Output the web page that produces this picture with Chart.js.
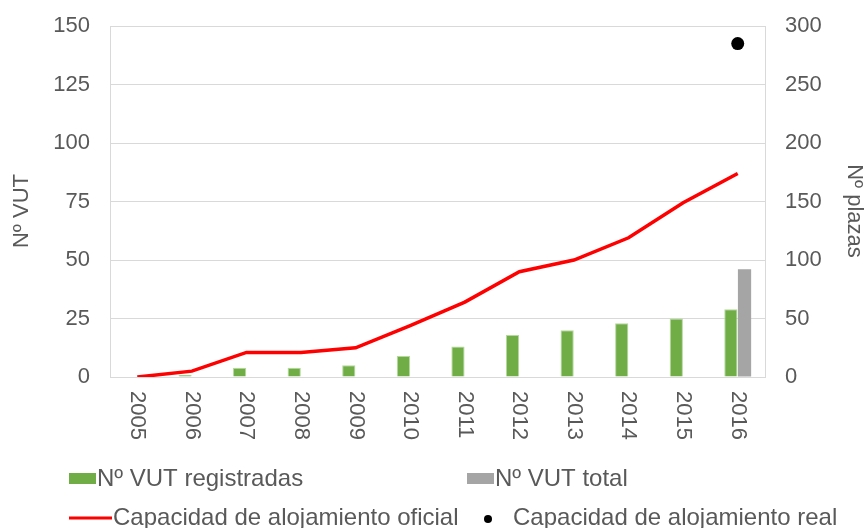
<!DOCTYPE html>
<html>
<head>
<meta charset="utf-8">
<script src="https://cdn.jsdelivr.net/npm/chart.js@4.4.0/dist/chart.umd.min.js"></script>
<style>
  html,body{margin:0;padding:0;background:#fff;}
  #wrap{width:865px;height:528px;position:relative;}
</style>
</head>
<body>
<div id="wrap"><canvas id="c" width="865" height="528"></canvas></div>
<script>
const years = ['2005','2006','2007','2008','2009','2010','2011','2012','2013','2014','2015','2016'];
const vutRegistradas = [0, 1, 4, 4, 5, 9, 13, 18, 20, 23, 25, 29];
const vutTotal = [null, null, null, null, null, null, null, null, null, null, null, 46];
const capOficial = [0, 5, 21, 21, 25, 44, 64, 90, 100, 119, 149, 174];
const capReal = [null, null, null, null, null, null, null, null, null, null, null, 285];
const leftTicks = [0, 150, 25];
const rightTicks = [0, 300, 50];
const leftTitle = 'Nº VUT';
const rightTitle = 'Nº plazas';

const FONT = 'Liberation Sans, Arial, sans-serif';
const TXT = '#595959';
const GRID = '#d9d9d9';

// rotated year labels (top-to-bottom) under each category, plus axis titles
const yearLabels = {
  id:'yearLabels',
  afterDraw(chart){
    const xs = chart.scales.x, ctx = chart.ctx;
    ctx.save();
    ctx.fillStyle = TXT;
    ctx.font = '22px ' + FONT;
    ctx.textAlign = 'left';
    ctx.textBaseline = 'middle';
    chart.data.labels.forEach((lab,i)=>{
      const x = xs.getPixelForTick(i);
      ctx.save();
      ctx.translate(x, xs.top + 14);
      ctx.rotate(Math.PI/2);
      ctx.fillText(lab, 0, 0);
      ctx.restore();
    });
    ctx.textAlign = 'center';
    ctx.save();
    ctx.translate(22, 211); ctx.rotate(-Math.PI/2);
    ctx.fillText(leftTitle, 0, 0);
    ctx.restore();
    ctx.save();
    ctx.translate(854, 211); ctx.rotate(Math.PI/2);
    ctx.fillText(rightTitle, 0, 0);
    ctx.restore();
    ctx.restore();
  }
};

// legend in two columns, two rows
const legend2 = {
  id:'legend2',
  afterDraw(chart){
    const ctx = chart.ctx, ds = chart.data.datasets;
    const spots = [[69,479],[467,479],[69,518],[467,518]];
    ctx.save();
    ctx.font = '24px ' + FONT;
    ctx.textBaseline = 'middle';
    ctx.textAlign = 'left';
    ds.forEach((d,i)=>{
      const [x,y] = spots[i];
      let tx;
      if(d.type==='bar'){
        ctx.fillStyle = d.backgroundColor;
        ctx.fillRect(x, y-6, 27, 11);
        tx = x + 28;
      } else if(d.showLine===false){
        ctx.fillStyle = d.pointBackgroundColor;
        ctx.beginPath(); ctx.arc(x+21, y+1, 4, 0, Math.PI*2); ctx.fill();
        tx = x + 46;
      } else {
        ctx.strokeStyle = d.borderColor; ctx.lineWidth = 3;
        ctx.beginPath(); ctx.moveTo(x, y); ctx.lineTo(x+43, y); ctx.stroke();
        tx = x + 44;
      }
      ctx.fillStyle = TXT;
      ctx.fillText(d.label, tx, y);
    });
    ctx.restore();
  }
};

new Chart(document.getElementById('c'), {
  type:'bar',
  data:{
    labels: years,
    datasets:[
      { type:'bar', label:'Nº VUT registradas', data:vutRegistradas, yAxisID:'y',
        backgroundColor:'#70ad47', borderColor:'#b5d99c', borderWidth:1, order:2,
        categoryPercentage:0.5, barPercentage:0.97 },
      { type:'bar', label:'Nº VUT total', data:vutTotal, yAxisID:'y',
        backgroundColor:'#a5a5a5', borderWidth:0, order:2,
        categoryPercentage:0.5, barPercentage:0.97 },
      { type:'line', label:'Capacidad de alojamiento oficial', data:capOficial, yAxisID:'y1',
        borderColor:'#ff0000', borderWidth:3.5, pointRadius:0, tension:0, order:1 },
      { type:'line', label:'Capacidad de alojamiento real', data:capReal, yAxisID:'y1',
        showLine:false, pointRadius:6.5, pointBackgroundColor:'#000', pointBorderWidth:0, order:0 }
    ]
  },
  options:{
    responsive:false,
    animation:false,
    layout:{ padding:{ top:26, left:0, right:0, bottom:0 } },
    plugins:{ legend:{ display:false }, tooltip:{ enabled:false } },
    scales:{
      x:{
        grid:{ display:false },
        border:{ color:GRID },
        ticks:{ display:false },
        afterFit(s){ s.height = 151; }
      },
      y:{
        position:'left',
        min:leftTicks[0], max:leftTicks[1],
        ticks:{ stepSize:leftTicks[2], color:TXT, font:{ family:FONT, size:22 }, padding:4 },
        grid:{ color:GRID, drawTicks:true, tickLength:16, tickColor:'rgba(0,0,0,0)' },
        border:{ color:GRID },
        afterFit(s){ s.width = 110; }
      },
      y1:{
        position:'right',
        min:rightTicks[0], max:rightTicks[1],
        ticks:{ stepSize:rightTicks[2], color:TXT, font:{ family:FONT, size:22 }, padding:4 },
        grid:{ drawOnChartArea:false, drawTicks:true, tickLength:16, tickColor:'rgba(0,0,0,0)' },
        border:{ color:GRID },
        afterFit(s){ s.width = 100; }
      }
    }
  },
  plugins:[yearLabels, legend2]
});
</script>
</body>
</html>
